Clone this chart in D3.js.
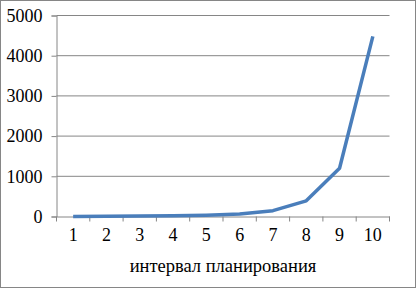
<!DOCTYPE html>
<html><head><meta charset="utf-8">
<script src="https://cdn.jsdelivr.net/npm/d3@7"></script>
<style>body{margin:0;background:#fff}svg{display:block}svg text{font-family:"Liberation Serif","Times New Roman",serif}</style>
</head><body>
<script>
const categories = ["1","2","3","4","5","6","7","8","9","10"];
const values = [3, 6, 10, 18, 30, 60, 145, 390, 1200, 4480];
const yTicks = [0, 1000, 2000, 3000, 4000, 5000];
const xTitle = "интервал планирования";

const W = 416, H = 288;
const svg = d3.select("body").append("svg").attr("width", W).attr("height", H);
svg.append("rect").attr("x",0.5).attr("y",0.5).attr("width",W-1).attr("height",H-1)
  .attr("fill","#fff").attr("stroke","#868686");

const L = 56.5, R = 389.5, T = 15.5, B = 216.5;
const x = d3.scaleBand().domain(categories).range([L, R]);
const y = d3.scaleLinear().domain([0, 5000]).range([B, T]);
const font = "Liberation Serif, Times New Roman, serif";

// gridlines
svg.append("g").selectAll("line").data(yTicks.filter(d=>d>0)).join("line")
  .attr("x1", L).attr("x2", R).attr("y1", d=>y(d)).attr("y2", d=>y(d))
  .attr("stroke", "#868686").attr("stroke-width", 1);

// y axis
const ya = svg.append("g").attr("transform", `translate(${L},0)`)
  .call(d3.axisLeft(y).tickValues(yTicks).tickSize(5).tickPadding(9).tickFormat(d3.format("d")));
ya.attr("font-family", null);
ya.select(".domain").attr("stroke", "#868686");
ya.selectAll(".tick line").attr("stroke", "#868686");
ya.selectAll("text").style("font-family", font).style("font-size", "18px").attr("fill", "#000");

// x axis
const xa = svg.append("g").attr("transform", `translate(0,${B})`)
  .call(d3.axisBottom(x).tickSize(0).tickPadding(12));
xa.attr("font-family", null);
xa.select(".domain").attr("stroke", "#868686");
xa.selectAll("text").style("font-family", font).style("font-size", "18px").attr("fill", "#000");
// tick marks at band boundaries
const bounds = categories.map(c => x(c)).concat([x(categories[categories.length-1]) + x.bandwidth()]);
xa.append("g").selectAll("line").data(bounds).join("line")
  .attr("x1", d=>d).attr("x2", d=>d).attr("y1", 0).attr("y2", 5).attr("stroke", "#868686");

// title
svg.append("text").attr("x", (L+R)/2).attr("y", 272).attr("text-anchor", "middle")
  .style("font-family", font).style("font-size", "18.5px").attr("fill", "#000").text(xTitle);

// line
const line = d3.line().x((d,i)=>x(categories[i]) + x.bandwidth()/2).y(d=>y(d));
svg.append("path").datum(values).attr("d", line).attr("fill", "none")
  .attr("stroke", "#4a7ebb").attr("stroke-width", 3.5).attr("stroke-linejoin", "round");
</script>
</body></html>
